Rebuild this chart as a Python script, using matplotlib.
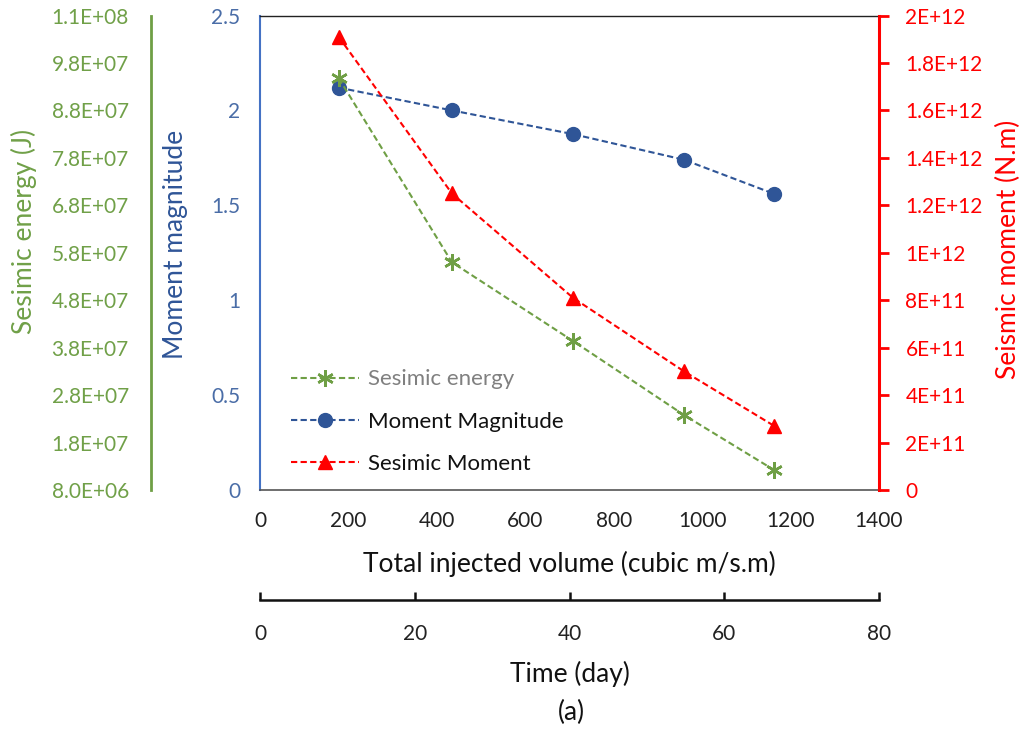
import numpy as np
import matplotlib.pyplot as plt
from matplotlib.ticker import FuncFormatter, FixedLocator

plt.rcParams['font.family'] = ['Lato', 'DejaVu Sans']

# data
volume = [178, 434, 708, 959, 1163]                      # cubic m/s.m
magnitude = [2.12, 2.00, 1.875, 1.74, 1.56]
seis_moment = [1.91e12, 1.25e12, 0.81e12, 0.50e12, 0.27e12]  # N.m
seis_energy = [9.48e7, 5.6e7, 3.94e7, 2.38e7, 1.22e7]      # J

energy_ticks = [8e6 + k * 1e7 for k in range(11)]
time_ticks = [0, 20, 40, 60, 80]

GREEN = '#6F9F45'
GREEN_TXT = '#70A048'
BLUE = '#2F5597'
BLUE_TXT = '#4A6DA7'
RED = '#FF0000'

fig = plt.figure(figsize=(10.29, 7.30), dpi=100)
ax = fig.add_axes([260 / 1029, 1 - 490 / 730, 619 / 1029, 474.5 / 730])

dash = (0, (3, 1.6))
fs_tick = 15
fs_leg = 16
fs_lab = 19

# moment magnitude (left, blue)
l_mag, = ax.plot(volume, magnitude, color=BLUE, ls=dash, lw=1.5,
                 marker='o', ms=10, label='Moment Magnitude')
ax.set_xlim(0, 1400)
ax.set_ylim(0, 2.5)
ax.set_xticks(range(0, 1401, 200))
ax.set_yticks([0, 0.5, 1, 1.5, 2, 2.5])
ax.set_yticklabels(['0', '0.5', '1', '1.5', '2', '2.5'])
ax.tick_params(axis='y', length=0, pad=14, labelsize=fs_tick, labelcolor=BLUE_TXT)
ax.tick_params(axis='x', length=0, pad=15, labelsize=fs_tick, labelcolor='#222222')
ax.spines['left'].set_color('#4472C4')
ax.spines['left'].set_linewidth(1.5)
ax.spines['bottom'].set_color('#555555')
ax.spines['bottom'].set_linewidth(1.2)
ax.spines['top'].set_color('#222222')
ax.spines['top'].set_linewidth(1.0)
ax.set_ylabel('Moment magnitude', fontsize=fs_lab, color=BLUE)
ax.yaxis.set_label_coords(-0.1163, 0.518)
ax.set_xlabel('Total injected volume (cubic m/s.m)', fontsize=fs_lab, color='#111111')
ax.xaxis.set_label_coords(0.5, -0.128)

# seismic moment (right, red)
ax_m = ax.twinx()
l_mom, = ax_m.plot(volume, seis_moment, color=RED, ls=dash, lw=1.5,
                   marker='^', ms=10, label='Sesimic Moment')
ax_m.set_ylim(0, 2e12)
ax_m.set_yticks(np.arange(0, 2.01e12, 2e11))


def excel_general(v, pos):
    if abs(v) < 1:
        return '0'
    e = int(np.floor(np.log10(abs(v)) + 1e-9))
    m = v / 10 ** e
    return f'{m:.10g}E+{e:02d}'


ax_m.yaxis.set_major_formatter(FuncFormatter(excel_general))
ax_m.tick_params(axis='y', direction='out', length=7, width=2, color=RED,
                 pad=12, labelsize=fs_tick, labelcolor=RED)
ax_m.spines['right'].set_color(RED)
ax_m.spines['right'].set_linewidth(2.2)
for s in ('left', 'top', 'bottom'):
    ax_m.spines[s].set_visible(False)
ax_m.set_ylabel('Seismic moment (N.m)', fontsize=fs_lab, color=RED)
ax_m.yaxis.set_label_coords(1.189, 0.508)

# seismic energy (far left, green)
ax_e = ax.twinx()
l_en, = ax_e.plot(volume, seis_energy, color=GREEN, ls=dash, lw=1.5,
                  marker=(6, 2, 0), ms=12, mew=1.8, label='Sesimic energy')
ax_e.set_ylim(8e6, 1.08e8)
ax_e.yaxis.set_major_locator(FixedLocator(energy_ticks))
ax_e.yaxis.set_major_formatter(FuncFormatter(lambda v, p: f'{v:.1E}'))
ax_e.yaxis.set_ticks_position('left')
ax_e.yaxis.set_label_position('left')
ax_e.spines['left'].set_position(('axes', -109 / 619))
ax_e.spines['left'].set_color(GREEN)
ax_e.spines['left'].set_linewidth(2.0)
for s in ('right', 'top', 'bottom'):
    ax_e.spines[s].set_visible(False)
ax_e.tick_params(axis='y', length=0, pad=16, labelsize=fs_tick, labelcolor=GREEN_TXT)
ax_e.set_ylabel('Sesimic energy (J)', fontsize=fs_lab, color=GREEN_TXT)
ax_e.yaxis.set_label_coords(-0.360, 0.544)

# time axis below
ax_t = ax.twiny()
ax_t.set_xlim(0, 80)
ax_t.set_xticks(time_ticks)
ax_t.xaxis.set_ticks_position('bottom')
ax_t.xaxis.set_label_position('bottom')
ax_t.spines['bottom'].set_position(('axes', -110 / 474.5))
ax_t.spines['bottom'].set_linewidth(1.8)
ax_t.spines['bottom'].set_color('#111111')
for s in ('left', 'right', 'top'):
    ax_t.spines[s].set_visible(False)
ax_t.tick_params(axis='x', direction='in', length=6, width=1.8, color='#111111',
                 pad=17, labelsize=fs_tick, labelcolor='#222222')
ax_t.set_xlabel('Time (day)', fontsize=fs_lab, color='#111111')
ax_t.xaxis.set_label_coords(0.5, -0.361)

fig.text(571 / 1029, 1 - 712 / 730, '(a)', ha='center', va='center',
         fontsize=fs_lab, color='#111111')

leg = ax_t.legend(handles=[l_en, l_mag, l_mom], loc='lower left',
                  bbox_to_anchor=(0.018, -0.008), frameon=False,
                  fontsize=fs_leg, handlelength=3.06, labelspacing=1.0,
                  handletextpad=0.4)
leg.get_texts()[0].set_color('#808080')
for t in leg.get_texts()[1:]:
    t.set_color('#111111')

fig.savefig('out.png', dpi=100)
